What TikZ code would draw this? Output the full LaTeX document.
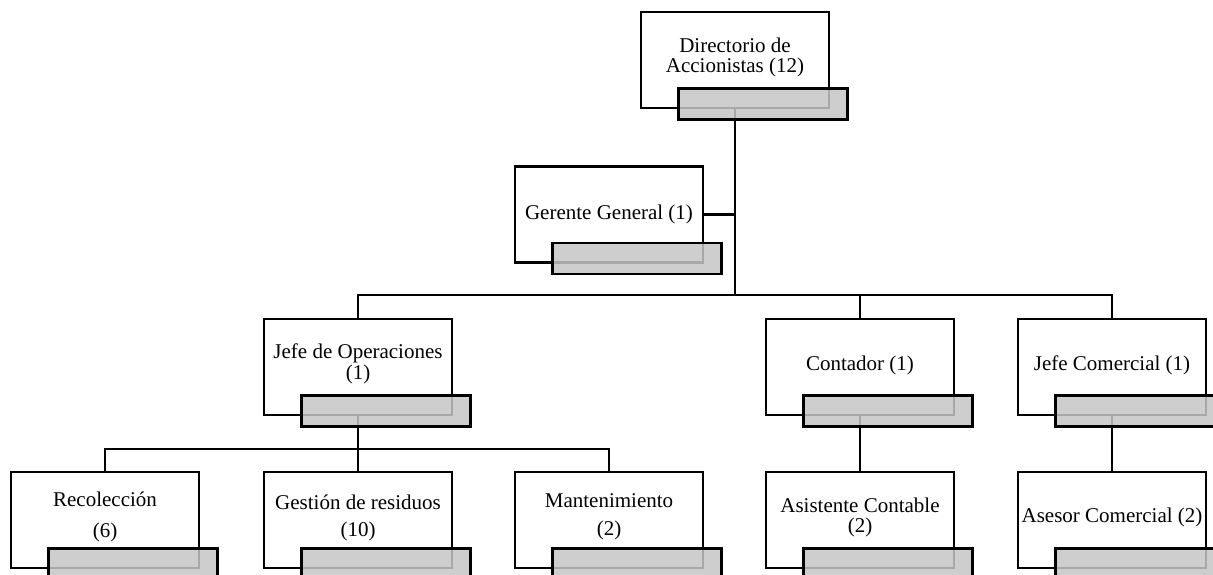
\documentclass[tikz,border=0pt]{standalone}
\usepackage{fontspec}
\setmainfont{Liberation Serif}
\definecolor{tagfill}{RGB}{198,198,198}

\begin{document}
\begin{tikzpicture}[x=1pt, y=-1pt, line width=2.5pt,
    card/.style={draw, fill=white, minimum width=188pt, minimum height=96pt, inner sep=0pt},
    tag/.style={draw, fill=tagfill, fill opacity=0.85, minimum width=169pt, minimum height=31pt, inner sep=0pt},
    txt/.style={align=center, inner sep=0pt, font=\fontsize{21}{20.5}\selectfont}]
    \clip (0, 0) rectangle (1213, 575);

    \node[card] (dir) at (735, 60) {};
    \node[card] (ger) at (609, 214.5) {};
    \node[card] (jop) at (358, 367) {};
    \node[card] (con) at (860, 367) {};
    \node[card] (jco) at (1112, 367) {};
    \node[card] (rec) at (105, 520) {};
    \node[card] (ges) at (358, 520) {};
    \node[card] (man) at (609, 520) {};
    \node[card] (asi) at (860, 520) {};
    \node[card] (ase) at (1112, 520) {};

    \coordinate (bus1) at (735, 295);
    \coordinate (bus2) at (358, 449);

    \draw (dir.south) -- (bus1);
    \draw (ger.east) -- (ger.east -| dir.south);
    \draw (jop.north) |- (bus1) -| (jco.north);
    \draw (con.north) -- (con.north |- bus1);
    \draw (jop.south) -- (bus2);
    \draw (rec.north) |- (bus2) -| (man.north);
    \draw (ges.north) -- (bus2);
    \draw (con.south) -- (asi.north);
    \draw (jco.south) -- (ase.north);

    \node[tag] (dir-g) at ([shift={(28, 44)}]dir.center) {};
    \node[tag] (ger-g) at ([shift={(28, 44)}]ger.center) {};
    \node[tag] (jop-g) at ([shift={(28, 44)}]jop.center) {};
    \node[tag] (con-g) at ([shift={(28, 44)}]con.center) {};
    \node[tag] (jco-g) at ([shift={(28, 44)}]jco.center) {};
    \node[tag] (rec-g) at ([shift={(28, 44)}]rec.center) {};
    \node[tag] (ges-g) at ([shift={(28, 44)}]ges.center) {};
    \node[tag] (man-g) at ([shift={(28, 44)}]man.center) {};
    \node[tag] (asi-g) at ([shift={(28, 44)}]asi.center) {};
    \node[tag] (ase-g) at ([shift={(28, 44)}]ase.center) {};

    \node[txt] (dir-t) at ([yshift=2.5]dir.center) {Directorio de\\Accionistas (12)};
    \node[txt] (ger-t) at (ger.center) {Gerente General (1)};
    \node[txt] (jop-t) at ([yshift=3]jop.center) {Jefe de Operaciones\\(1)};
    \node[txt] (con-t) at ([yshift=2]con.center) {Contador (1)};
    \node[txt] (jco-t) at ([yshift=2]jco.center) {Jefe Comercial (1)};
    \node[txt] (rec-t) at ([yshift=3]rec.center) {Recolección\\[10pt](6)};
    \node[txt] (ges-t) at ([yshift=2]ges.center) {Gestión de residuos\\[6pt](10)};
    \node[txt] (man-t) at ([yshift=3]man.center) {Mantenimiento\\[8pt](2)};
    \node[txt] (asi-t) at ([yshift=2.5]asi.center) {Asistente Contable\\(2)};
    \node[txt] (ase-t) at ([yshift=3]ase.center) {Asesor Comercial (2)};
\end{tikzpicture}
\end{document}
